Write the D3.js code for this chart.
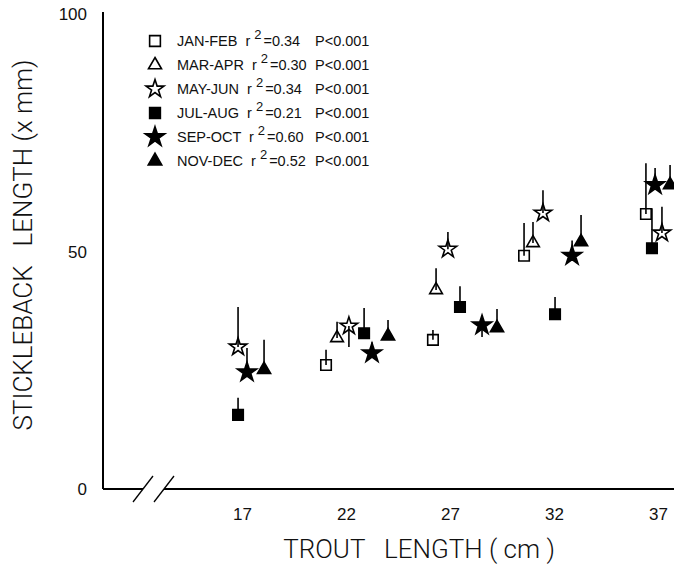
<!DOCTYPE html>
<html><head><meta charset="utf-8">
<script src="https://cdn.jsdelivr.net/npm/d3@7"></script>
<style>body{margin:0;background:#fff}svg{display:block}</style>
</head><body>
<script>
// ---- data ----
const periods = ["JAN-FEB","MAR-APR","MAY-JUN","JUL-AUG","SEP-OCT","NOV-DEC"];
const rSquared = ["0.34","0.30","0.34","0.21","0.60","0.52"];
const pLabels = ["P<0.001","P<0.001","P<0.001","P<0.001","P<0.001","P<0.001"];
const xTicks = [17,22,27,32,37];
const yTicks = [0,50,100];

const janFebTrout = [21.04,26.18,30.56,36.42];
const janFebStick = [26.1,31.4,49.1,57.9];
const janFebErr   = [3.2,2.1,6.9,10.7];

const marAprTrout = [21.57,26.33,30.99];
const marAprStick = [31.8,41.9,51.8];
const marAprErr   = [3.4,4.6,4.4];

const mayJunTrout = [16.81,22.14,26.90,31.47,37.19];
const mayJunStick = [29.9,34.3,50.5,58.1,53.9];
const mayJunErr   = [8.4,-4.4,3.6,4.8,5.5];

const julAugTrout = [16.81,22.87,27.48,32.05,36.71];
const julAugStick = [15.6,32.8,38.3,36.8,50.7];
const julAugErr   = [3.6,5.3,4.4,3.6,8.4];

const sepOctTrout = [17.24,23.25,28.54,32.87,36.86];
const sepOctStick = [24.6,28.6,34.5,49.1,64.0];
const sepOctErr   = [5.1,2.3,-2.5,3.2,3.6];

const novDecTrout = [18.06,24.02,29.26,33.30,37.58];
const novDecStick = [25.1,32.2,33.9,52.0,64.0];
const novDecErr   = [6.3,3.4,4.0,5.7,4.2];

// ---- layout ----
const W = 674, H = 568;
const svg = d3.select("body").append("svg").attr("width", W).attr("height", H);
const x = d3.scaleLinear().domain([17,37]).range([242,658]);
const y = d3.scaleLinear().domain([0,100]).range([489,14]);
const axisX0 = 103;
const font = "'Liberation Sans', Arial, Helvetica, sans-serif";
const titleFont = "Roboto, 'Liberation Sans', Arial, sans-serif";

const symbolDefs = [
  {type: d3.symbolSquare, size: 110, fill: "#fff"},
  {type: d3.symbolTriangle, size: 70, fill: "#fff"},
  {type: d3.symbolStar, size: 95, fill: "#fff"},
  {type: d3.symbolSquare, size: 110, fill: "#000"},
  {type: d3.symbolStar, size: 115, fill: "#000"},
  {type: d3.symbolTriangle, size: 75, fill: "#000"}
];

const seriesX = [janFebTrout, marAprTrout, mayJunTrout, julAugTrout, sepOctTrout, novDecTrout];
const seriesY = [janFebStick, marAprStick, mayJunStick, julAugStick, sepOctStick, novDecStick];
const seriesE = [janFebErr, marAprErr, mayJunErr, julAugErr, sepOctErr, novDecErr];

// ---- axes ----
const ax = svg.append("g").attr("stroke", "#000").attr("stroke-width", 2).attr("fill", "none");
ax.append("line").attr("x1", axisX0).attr("x2", axisX0).attr("y1", y(100) - 2).attr("y2", y(0));
ax.append("line").attr("x1", axisX0).attr("x2", 143).attr("y1", y(0)).attr("y2", y(0));
ax.append("line").attr("x1", 164).attr("x2", W).attr("y1", y(0)).attr("y2", y(0));
// break marks
ax.append("line").attr("x1", 133).attr("y1", y(0) + 13).attr("x2", 153).attr("y2", y(0) - 13).attr("stroke-width", 1.3);
ax.append("line").attr("x1", 154).attr("y1", y(0) + 13).attr("x2", 174).attr("y2", y(0) - 13).attr("stroke-width", 1.3);

// tick labels via d3 axis (no tick lines)
const xAxis = d3.axisBottom(x).tickValues(xTicks).tickSize(0).tickPadding(0).tickFormat(d3.format("d"));
const gx = svg.append("g").attr("transform", `translate(0,${y(0)})`).call(xAxis);
gx.select(".domain").remove();
gx.selectAll("text").attr("dy", null).attr("y", 31).attr("font-size", 17).attr("font-family", font).attr("fill", "#111");

const yAxis = d3.axisLeft(y).tickValues(yTicks).tickSize(0).tickPadding(0).tickFormat(d3.format("d"));
const gy = svg.append("g").attr("transform", `translate(${axisX0 - 16},0)`).call(yAxis);
gy.select(".domain").remove();
gy.selectAll("text").attr("font-size", 17).attr("font-family", font).attr("fill", "#111").attr("dy", "0.35em");

// axis titles
svg.append("text").attr("x", 419).attr("y", 558).attr("text-anchor", "middle")
  .attr("font-family", titleFont).attr("font-weight", 300).attr("font-size", 26).attr("fill", "#111")
  .style("white-space", "pre")
  .text("TROUT   LENGTH ( cm )");
svg.append("text").attr("transform", "translate(32,245) rotate(-90)").attr("text-anchor", "middle")
  .attr("font-family", titleFont).attr("font-weight", 300).attr("font-size", 26).attr("fill", "#111")
  .style("white-space", "pre")
  .text("STICKLEBACK   LENGTH (x mm)");

// ---- data marks ----
const plot = svg.append("g");
seriesX.forEach((xs, i) => {
  const def = symbolDefs[i];
  const g = plot.append("g");
  const pts = xs.map((v, j) => ({tx: v, sy: seriesY[i][j], e: seriesE[i][j]}));
  g.selectAll("path").data(pts).join("path")
    .attr("d", d3.symbol().type(def.type).size(def.size))
    .attr("transform", d => `translate(${x(d.tx)},${y(d.sy)})`)
    .attr("fill", def.fill).attr("stroke", "#000").attr("stroke-width", 1.6);
  g.selectAll("line").data(pts).join("line")
    .attr("x1", d => x(d.tx)).attr("x2", d => x(d.tx))
    .attr("y1", d => y(d.sy)).attr("y2", d => y(d.sy + d.e))
    .attr("stroke", "#000").attr("stroke-width", 1.6);
});

// ---- legend ----
const leg = svg.append("g");
periods.forEach((p, i) => {
  const def = symbolDefs[i];
  const cy = 41 + i * 24;
  leg.append("path").attr("d", d3.symbol().type(def.type).size(def.size * 1.05))
    .attr("transform", `translate(155,${cy})`)
    .attr("fill", def.fill).attr("stroke", "#000").attr("stroke-width", 1.6);
  const t = leg.append("text").attr("x", 177).attr("y", cy + 5)
    .attr("font-family", font).attr("font-size", 14.5).attr("fill", "#111")
    .style("white-space", "pre");
  t.append("tspan").text(p);
  t.append("tspan").attr("dx", 8).text("r");
  t.append("tspan").attr("dx", 4).attr("dy", -7).attr("font-size", 13).text("2");
  t.append("tspan").attr("dx", 2).attr("dy", 7).text("=" + rSquared[i]);
  leg.append("text").attr("x", 315).attr("y", cy + 5)
    .attr("font-family", font).attr("font-size", 14.5).attr("fill", "#111")
    .text(pLabels[i]);
});
</script>
</body></html>
